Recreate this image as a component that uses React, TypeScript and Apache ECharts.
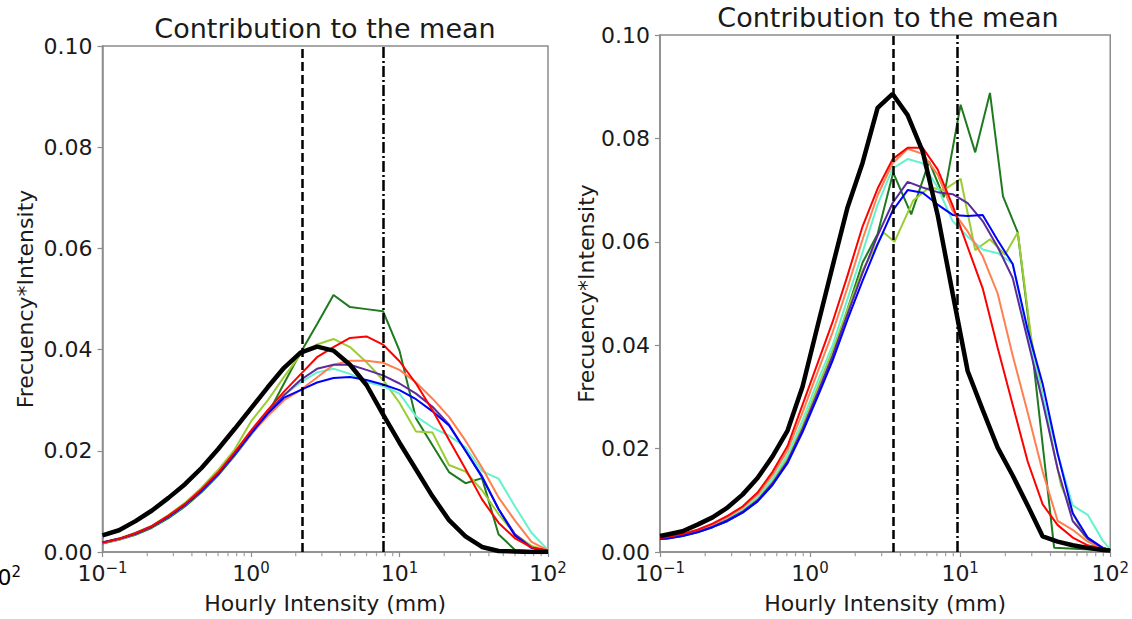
import React, { useEffect, useRef } from 'react';
import * as echarts from 'echarts';

// ---------- Left panel data (log-spaced bins) ----------
const LEFT_X = [0.1, 0.1292, 0.1668, 0.2154, 0.2783, 0.3594, 0.4642, 0.5995, 0.7743, 1.0, 1.292, 1.668, 2.154, 2.783, 3.594, 4.642, 5.995, 7.743, 10.0, 12.92, 16.68, 21.54, 27.83, 35.94, 46.42, 59.95, 77.43, 100];
const L_BLACK = [0.0033, 0.0043, 0.0061, 0.0082, 0.0107, 0.0134, 0.0166, 0.0203, 0.0243, 0.0284, 0.0325, 0.0364, 0.0394, 0.0406, 0.0398, 0.0370, 0.0330, 0.0272, 0.0216, 0.0163, 0.0110, 0.0063, 0.0031, 0.0010, 0.0002, 0.0001, 0.0000, 0.0000];
const L_DARKGREEN = [0.0017, 0.0024, 0.0034, 0.0048, 0.0067, 0.0090, 0.0118, 0.0151, 0.0190, 0.0232, 0.0272, 0.0333, 0.0394, 0.0450, 0.0508, 0.0484, 0.0480, 0.0476, 0.0398, 0.0264, 0.0211, 0.0158, 0.0136, 0.0146, 0.0035, 0.0004, 0.0002, 0.0001];
const L_YELLOWGREEN = [0.0019, 0.0027, 0.0038, 0.0052, 0.0073, 0.0097, 0.0127, 0.0162, 0.0202, 0.0258, 0.0299, 0.0346, 0.0390, 0.0410, 0.0421, 0.0405, 0.0375, 0.0340, 0.0295, 0.0238, 0.0236, 0.0172, 0.0159, 0.0122, 0.0075, 0.0035, 0.0012, 0.0002];
const L_RED = [0.0018, 0.0026, 0.0037, 0.0051, 0.0072, 0.0095, 0.0124, 0.0157, 0.0197, 0.0240, 0.0280, 0.0317, 0.0351, 0.0385, 0.0405, 0.0423, 0.0426, 0.0410, 0.0377, 0.0333, 0.0280, 0.0222, 0.0164, 0.0104, 0.0058, 0.0027, 0.0009, 0.0003];
const L_CORAL = [0.0018, 0.0025, 0.0036, 0.0050, 0.0070, 0.0093, 0.0121, 0.0154, 0.0193, 0.0233, 0.0268, 0.0300, 0.0320, 0.0345, 0.0370, 0.0378, 0.0378, 0.0374, 0.0360, 0.0335, 0.0303, 0.0267, 0.0220, 0.0167, 0.0108, 0.0062, 0.0020, 0.0003];
const L_PURPLE = [0.0019, 0.0026, 0.0037, 0.0051, 0.0071, 0.0094, 0.0122, 0.0155, 0.0194, 0.0236, 0.0275, 0.0310, 0.0340, 0.0362, 0.0370, 0.0370, 0.0360, 0.0349, 0.0333, 0.0313, 0.0287, 0.0252, 0.0200, 0.0150, 0.0085, 0.0035, 0.0009, 0.0002];
const L_BLUE = [0.0019, 0.0026, 0.0036, 0.0050, 0.0070, 0.0093, 0.0121, 0.0154, 0.0193, 0.0234, 0.0273, 0.0305, 0.0320, 0.0335, 0.0344, 0.0346, 0.0340, 0.0331, 0.0320, 0.0302, 0.0278, 0.0250, 0.0200, 0.0148, 0.0085, 0.0032, 0.0008, 0.0002];
const L_AQUA = [0.0018, 0.0025, 0.0036, 0.0050, 0.0070, 0.0093, 0.0122, 0.0155, 0.0194, 0.0235, 0.0274, 0.0310, 0.0335, 0.0355, 0.0362, 0.0352, 0.0336, 0.0328, 0.0313, 0.0268, 0.0246, 0.0230, 0.0207, 0.0160, 0.0145, 0.0090, 0.0038, 0.0004];
const L_DASHED = 2.2;
const L_DASHDOT = 7.74;

// ---------- Right panel data ----------
const RIGHT_X = [0.1, 0.1122, 0.1413, 0.1778, 0.2239, 0.2818, 0.3548, 0.4467, 0.5623, 0.7079, 0.8913, 1.122, 1.413, 1.778, 2.239, 2.818, 3.548, 4.467, 5.623, 7.079, 8.913, 11.22, 14.13, 17.78, 22.39, 28.18, 35.48, 44.67, 56.23, 70.79, 89.13, 100];
const R_BLACK = [0.0031, 0.0034, 0.0040, 0.0053, 0.0067, 0.0086, 0.0111, 0.0143, 0.0185, 0.0235, 0.0320, 0.0437, 0.0553, 0.0667, 0.0753, 0.0859, 0.0886, 0.0845, 0.0775, 0.0652, 0.0500, 0.0350, 0.0275, 0.0202, 0.0148, 0.0090, 0.0030, 0.0020, 0.0013, 0.0008, 0.0004, 0.0003];
const R_RED = [0.0027, 0.0029, 0.0035, 0.0043, 0.0055, 0.0070, 0.0088, 0.0115, 0.0155, 0.0205, 0.0285, 0.0365, 0.0445, 0.0535, 0.0630, 0.0703, 0.0760, 0.0782, 0.0782, 0.0740, 0.0670, 0.0590, 0.0510, 0.0395, 0.0285, 0.0175, 0.0092, 0.0052, 0.0028, 0.0013, 0.0006, 0.0004];
const R_CORAL = [0.0026, 0.0028, 0.0034, 0.0042, 0.0053, 0.0068, 0.0086, 0.0111, 0.0149, 0.0197, 0.0270, 0.0348, 0.0425, 0.0512, 0.0605, 0.0690, 0.0752, 0.0780, 0.0770, 0.0730, 0.0660, 0.0620, 0.0572, 0.0500, 0.0380, 0.0270, 0.0155, 0.0060, 0.0043, 0.0020, 0.0008, 0.0004];
const R_PURPLE = [0.0026, 0.0027, 0.0032, 0.0039, 0.0049, 0.0062, 0.0078, 0.0100, 0.0133, 0.0176, 0.0238, 0.0308, 0.0380, 0.0460, 0.0540, 0.0612, 0.0675, 0.0716, 0.0705, 0.0696, 0.0692, 0.0675, 0.0640, 0.0590, 0.0530, 0.0410, 0.0290, 0.0160, 0.0060, 0.0026, 0.0008, 0.0004];
const R_BLUE = [0.0025, 0.0026, 0.0031, 0.0038, 0.0048, 0.0060, 0.0076, 0.0098, 0.0130, 0.0172, 0.0232, 0.0300, 0.0370, 0.0450, 0.0525, 0.0595, 0.0660, 0.0700, 0.0695, 0.0672, 0.0652, 0.0650, 0.0652, 0.0603, 0.0557, 0.0430, 0.0325, 0.0190, 0.0075, 0.0028, 0.0008, 0.0004];
const R_AQUA = [0.0026, 0.0028, 0.0033, 0.0041, 0.0052, 0.0066, 0.0083, 0.0107, 0.0142, 0.0188, 0.0255, 0.0330, 0.0400, 0.0490, 0.0580, 0.0672, 0.0742, 0.0760, 0.0752, 0.0705, 0.0640, 0.0610, 0.0585, 0.0578, 0.0558, 0.0420, 0.0300, 0.0190, 0.0090, 0.0072, 0.0022, 0.0005];
const R_DARKGREEN_X = [0.1, 0.1122, 0.1413, 0.1778, 0.2239, 0.2818, 0.3548, 0.4467, 0.5623, 0.7079, 0.8913, 1.122, 1.413, 1.778, 2.239, 2.818, 3.58, 4.72, 6.21, 7.78, 10.07, 12.6, 15.8, 19.3, 24.2, 29.9, 42.3, 100];
const R_DARKGREEN = [0.0025, 0.0026, 0.0031, 0.0038, 0.0048, 0.0060, 0.0076, 0.0098, 0.0130, 0.0174, 0.0236, 0.0305, 0.0378, 0.0470, 0.0560, 0.0615, 0.0734, 0.0653, 0.0755, 0.0686, 0.0865, 0.0773, 0.0888, 0.0688, 0.0618, 0.0400, 0.0008, 0.0003];
const R_YELLOWGREEN_X = [0.1, 0.1122, 0.1413, 0.1778, 0.2239, 0.2818, 0.3548, 0.4467, 0.5623, 0.7079, 0.8913, 1.122, 1.413, 1.778, 2.239, 3.09, 3.65, 4.87, 6.21, 7.78, 10.07, 12.6, 15.8, 19.9, 24.2, 29.9, 38.0, 47.0, 57.3, 66.6, 77.4, 100];
const R_YELLOWGREEN = [0.0026, 0.0027, 0.0032, 0.0040, 0.0050, 0.0064, 0.0080, 0.0103, 0.0137, 0.0181, 0.0245, 0.0318, 0.0390, 0.0470, 0.0545, 0.0618, 0.0600, 0.0680, 0.0705, 0.0700, 0.0722, 0.0584, 0.0605, 0.0575, 0.0618, 0.0410, 0.0258, 0.0129, 0.0071, 0.0033, 0.0013, 0.0004];
const R_DASHED = 3.6;
const R_DASHDOT = 9.6;

// ---------- Axes ----------
const MINOR_TICKS = [0.2, 0.3, 0.4, 0.5, 0.6, 0.7, 0.8, 0.9, 2, 3, 4, 5, 6, 7, 8, 9, 20, 30, 40, 50, 60, 70, 80, 90];
const TITLE = 'Contribution to the mean';
const X_NAME = 'Hourly Intensity (mm)';
const Y_NAME = 'Frecuency*Intensity';

const FONT = 'DejaVu Sans';
const TXT = '#1a1a1a';
const SPINE = '#8c8c8c';

const COLORS = {
  black: '#000000',
  darkgreen: '#1f7a1f',
  yellowgreen: '#9acd32',
  red: '#ff0000',
  coral: '#ff7f50',
  purple: '#5b2c9c',
  blue: '#0000ff',
  aqua: '#66f2cc',
};

function pairs(xs: number[], ys: number[]) {
  return xs.map((x, i) => [x, ys[i]]);
}

const rich = {
  b: { fontSize: 22, fontFamily: FONT, color: TXT, lineHeight: 24, verticalAlign: 'bottom' },
  s: { fontSize: 15, fontFamily: FONT, color: TXT, lineHeight: 14, verticalAlign: 'top' },
};

function expLabel(v: number) {
  const e = Math.round(Math.log10(v));
  const s = e < 0 ? '\u2212' + Math.abs(e) : String(e);
  return `{b|10}{s|${s}}`;
}

function makeXAxis(gridIndex: number) {
  return {
    type: 'log',
    logBase: 10,
    gridIndex,
    min: 0.1,
    max: 100,
    axisLine: { show: true, lineStyle: { color: SPINE, width: 1.5 } },
    axisTick: { show: true, length: 5, lineStyle: { color: SPINE, width: 1.2 } },
    axisLabel: { formatter: expLabel, rich, margin: 8 },
    splitLine: { show: false },
    name: X_NAME,
    nameLocation: 'middle',
    nameGap: 40,
    nameTextStyle: { fontSize: 22, fontFamily: FONT, color: TXT },
  };
}

function makeYAxis(gridIndex: number, nameGap: number) {
  return {
    type: 'value',
    gridIndex,
    min: 0,
    max: 0.1,
    interval: 0.02,
    axisLine: { show: true, lineStyle: { color: SPINE, width: 1.5 } },
    axisTick: { show: true, length: 5, lineStyle: { color: SPINE, width: 1.2 } },
    axisLabel: {
      formatter: (v: number) => v.toFixed(2),
      fontSize: 22,
      fontFamily: FONT,
      color: TXT,
      margin: 10,
    },
    splitLine: { show: false },
    name: Y_NAME,
    nameLocation: 'middle',
    nameRotate: 90,
    nameGap,
    nameTextStyle: { fontSize: 22, fontFamily: FONT, color: TXT },
  };
}

function line(idx: number, xs: number[], ys: number[], color: string, width: number, z = 2) {
  return {
    type: 'line',
    xAxisIndex: idx,
    yAxisIndex: idx,
    data: pairs(xs, ys),
    showSymbol: false,
    symbol: 'none',
    smooth: false,
    lineStyle: { color, width },
    itemStyle: { color },
    z,
    silent: true,
  };
}

function vlines(idx: number, dashed: number, dashdot: number) {
  return {
    type: 'line',
    xAxisIndex: idx,
    yAxisIndex: idx,
    data: [],
    silent: true,
    z: 5,
    markLine: {
      silent: true,
      symbol: ['none', 'none'],
      label: { show: false },
      animation: false,
      data: [
        { xAxis: dashed, lineStyle: { color: '#000', width: 2.5, type: [9, 4] } },
        { xAxis: dashdot, lineStyle: { color: '#000', width: 2.5, type: [11, 3, 2, 3] } },
      ],
    },
  };
}

function minorTicks(idx: number) {
  return {
    type: 'scatter',
    xAxisIndex: idx,
    yAxisIndex: idx,
    data: MINOR_TICKS.map((x) => [x, 0]),
    symbol: 'rect',
    symbolSize: [1.2, 3.5],
    symbolOffset: [0, 2.5],
    itemStyle: { color: SPINE },
    clip: false,
    silent: true,
    z: 1,
  };
}

export default function App() {
  const ref = useRef<HTMLDivElement>(null);

  useEffect(() => {
    if (!ref.current) return;
    const chart = echarts.init(ref.current, null, { renderer: 'svg' });

    const option = {
      animation: false,
      backgroundColor: '#ffffff',
      grid: [
        { left: 102.5, top: 46, width: 445.5, height: 508, show: true, borderColor: SPINE, borderWidth: 1.5, backgroundColor: 'transparent' },
        { left: 660, top: 35, width: 457, height: 519, show: true, borderColor: SPINE, borderWidth: 1.5, backgroundColor: 'transparent' },
      ],
      xAxis: [makeXAxis(0), makeXAxis(1)],
      yAxis: [makeYAxis(0, 66), makeYAxis(1, 61)],
      graphic: [
        {
          type: 'text', x: 325, y: 28, silent: true,
          style: { text: TITLE, fontSize: 27, fontFamily: FONT, fill: TXT, align: 'center', verticalAlign: 'middle' },
        },
        {
          type: 'text', x: 888, y: 17.5, silent: true,
          style: { text: TITLE, fontSize: 27, fontFamily: FONT, fill: TXT, align: 'center', verticalAlign: 'middle' },
        },
        {
          type: 'text', x: 21, y: 576, silent: true,
          style: { text: '{b|10}{s|2}', rich, align: 'right', verticalAlign: 'middle' },
        },
      ],
      series: [
        minorTicks(0),
        minorTicks(1),
        line(0, LEFT_X, L_DARKGREEN, COLORS.darkgreen, 2),
        line(0, LEFT_X, L_YELLOWGREEN, COLORS.yellowgreen, 2),
        line(0, LEFT_X, L_AQUA, COLORS.aqua, 2),
        line(0, LEFT_X, L_CORAL, COLORS.coral, 2),
        line(0, LEFT_X, L_PURPLE, COLORS.purple, 2),
        line(0, LEFT_X, L_BLUE, COLORS.blue, 2),
        line(0, LEFT_X, L_RED, COLORS.red, 2),
        line(0, LEFT_X, L_BLACK, COLORS.black, 4.5, 3),
        vlines(0, L_DASHED, L_DASHDOT),
        line(1, R_DARKGREEN_X, R_DARKGREEN, COLORS.darkgreen, 2),
        line(1, R_YELLOWGREEN_X, R_YELLOWGREEN, COLORS.yellowgreen, 2),
        line(1, RIGHT_X, R_AQUA, COLORS.aqua, 2),
        line(1, RIGHT_X, R_CORAL, COLORS.coral, 2),
        line(1, RIGHT_X, R_PURPLE, COLORS.purple, 2),
        line(1, RIGHT_X, R_BLUE, COLORS.blue, 2),
        line(1, RIGHT_X, R_RED, COLORS.red, 2),
        line(1, RIGHT_X, R_BLACK, COLORS.black, 4.5, 3),
        vlines(1, R_DASHED, R_DASHDOT),
      ],
    };

    chart.setOption(option as any);
    return () => chart.dispose();
  }, []);

  return (
    <div
      ref={ref}
      style={{ position: 'fixed', left: 0, top: 0, width: 1132, height: 619, background: '#ffffff' }}
    />
  );
}
